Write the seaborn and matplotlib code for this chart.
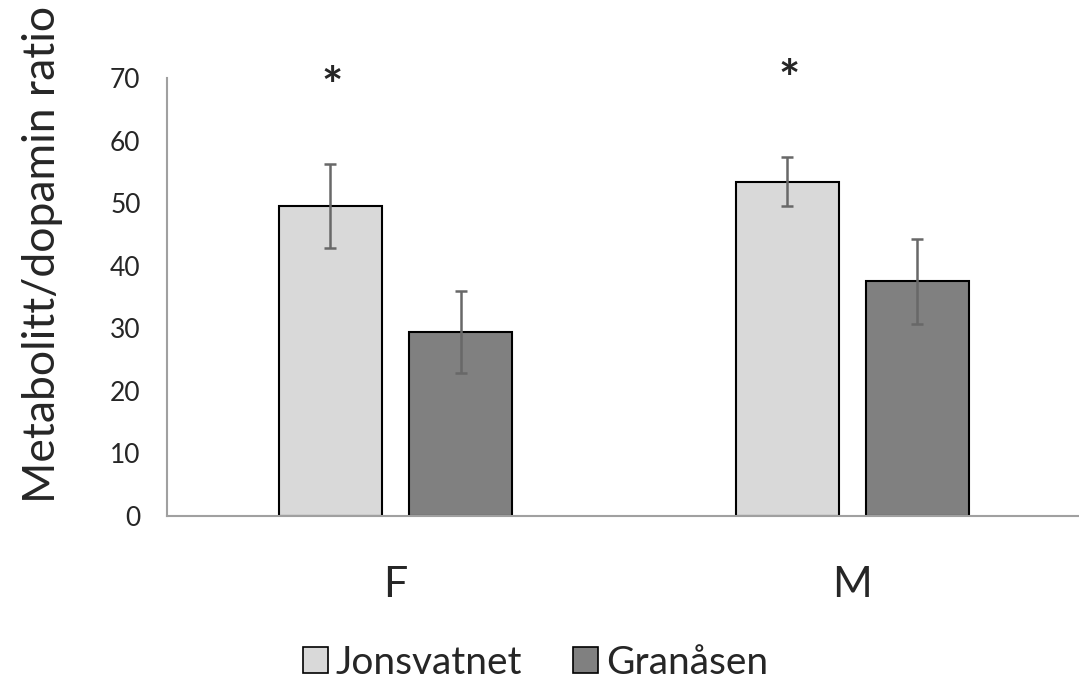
import matplotlib
matplotlib.use("Agg")
import matplotlib.pyplot as plt
import numpy as np
import pandas as pd
import seaborn as sns

# data
sexes = ["F", "M"]
sites = ["Jonsvatnet", "Granåsen"]
jonsvatnet = [49.5, 53.4]
granasen = [29.4, 37.5]
jonsvatnet_err = [6.7, 3.9]
granasen_err = [6.6, 6.8]
star_y = [68.3, 69.4]

df = pd.DataFrame({
    "sex": sexes * 2,
    "site": [sites[0]] * 2 + [sites[1]] * 2,
    "ratio": jonsvatnet + granasen,
    "err": jonsvatnet_err + granasen_err,
})

sns.set_theme(style="white")
plt.rcParams["font.family"] = ["Lato", "DejaVu Sans"]

fig = plt.figure(figsize=(10.79, 6.81), dpi=100)
ax = fig.add_axes([167 / 1079, 165 / 681, 1 - 167 / 1079 + 0.01, 438 / 681])

sns.barplot(data=df, x="sex", y="ratio", hue="site", order=sexes, hue_order=sites,
            palette=["#d9d9d9", "#808080"], width=0.57, gap=0.208,
            edgecolor="black", linewidth=1.5, errorbar=None, legend=False, ax=ax)

# error bars, placed at the bar centres
for bars, site in zip(ax.containers, sites):
    sub = df[df.site == site].set_index("sex").loc[sexes]
    xs = [b.get_x() + b.get_width() / 2 for b in bars]
    ax.errorbar(xs, sub["ratio"], yerr=sub["err"], fmt="none", ecolor="#686868",
                elinewidth=1.8, capsize=4.5, capthick=1.8, zorder=5)

# significance stars above Jonsvatnet bars
for b, y in zip(ax.containers[0], star_y):
    ax.text(b.get_x() + b.get_width() / 2 + 2 / 456, y, "*", ha="center", va="center",
            fontsize=36, fontweight="bold", clip_on=False)

ax.set_ylim(0, 70)
ax.set_xlim(-0.5, 1.52)
ax.set_yticks(range(0, 71, 10))
ax.tick_params(axis="y", labelsize=19, pad=19, length=0)
ax.tick_params(axis="x", labelsize=31, pad=36, length=0)
ax.set_xlabel("")
ax.set_ylabel("Metabolitt/dopamin ratio", fontsize=32)
ax.yaxis.set_label_coords(-0.113, 0.597)

for side in ["top", "right"]:
    ax.spines[side].set_visible(False)
for side in ["left", "bottom"]:
    ax.spines[side].set_color("#a0a0a0")
    ax.spines[side].set_linewidth(1.5)

handles = [plt.Rectangle((0, 0), 1, 1, facecolor=c, edgecolor="black", linewidth=1.2)
           for c in ["#d9d9d9", "#808080"]]
fig.legend(handles, sites, loc="center", bbox_to_anchor=(0.496, 0.027), ncol=2,
           frameon=False, fontsize=28, handlelength=0.65, handleheight=0.65,
           handletextpad=0.2, columnspacing=1.3)

fig.savefig("out.png", dpi=100)
